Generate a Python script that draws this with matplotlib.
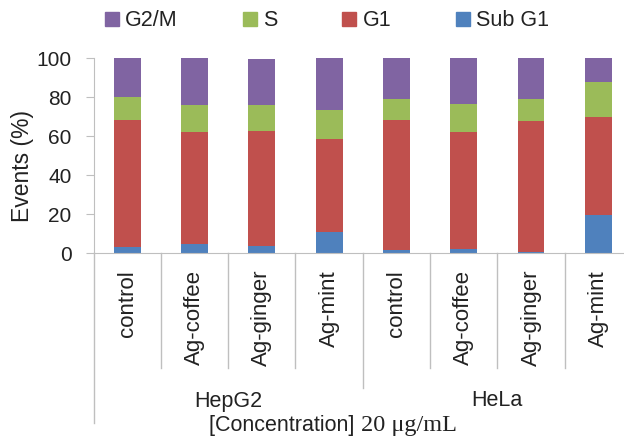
import matplotlib
matplotlib.use("Agg")
import matplotlib.pyplot as plt
from matplotlib.patches import Patch
from matplotlib.offsetbox import TextArea, HPacker, AnchoredOffsetbox

categories = ["control", "Ag-coffee", "Ag-ginger", "Ag-mint",
              "control", "Ag-coffee", "Ag-ginger", "Ag-mint"]
groups = ["HepG2", "HeLa"]
sub_g1 = [3.2, 5.0, 4.0, 11.0, 1.9, 2.2, 0.7, 19.5]
g1 = [65.0, 57.0, 58.5, 47.8, 66.5, 59.8, 67.0, 50.2]
s_phase = [11.8, 13.8, 13.3, 14.9, 10.9, 14.4, 11.3, 18.3]
g2m = [20.0, 24.2, 23.8, 26.3, 20.7, 23.6, 21.0, 12.0]

colors = {"G2/M": "#8064A2", "S": "#9BBB59", "G1": "#C0504D", "Sub G1": "#4F81BD"}

plt.rcParams["font.family"] = ["Liberation Sans", "DejaVu Sans"]
plt.rcParams["text.color"] = "#222222"
plt.rcParams["xtick.labelcolor"] = "#222222"
plt.rcParams["ytick.labelcolor"] = "#222222"

fig = plt.figure(figsize=(6.24, 4.43), dpi=100)
W, H = 624, 443
x_left, x_right = 93.5, 632.0
y_bot, y_top = 253.3, 58.3
ax = fig.add_axes([x_left / W, 1 - y_bot / H, (x_right - x_left) / W, (y_bot - y_top) / H])

x = list(range(len(categories)))
bottom = [0] * len(x)
for name, vals in [("Sub G1", sub_g1), ("G1", g1), ("S", s_phase), ("G2/M", g2m)]:
    ax.bar(x, vals, width=0.4, bottom=bottom, color=colors[name], linewidth=0)
    bottom = [b + v for b, v in zip(bottom, vals)]

ax.set_xlim(-0.5, len(x) - 0.5)
ax.set_ylim(0, 100)
ax.set_yticks(range(0, 101, 20))
ax.tick_params(axis="y", labelsize=15, length=5.8, color="#BFBFBF", pad=10)
fig.text(23 / W, 1 - 166 / H, "Events (%)", rotation=90, fontsize=16.5,
         ha="center", va="center")

ax.set_xticks(x)
ax.set_xticklabels(categories, fontsize=16)
ax.tick_params(axis="x", length=0, pad=12)
for lbl in ax.get_xticklabels():
    lbl.set_rotation(90)
    lbl.set_rotation_mode("default")
    lbl.set_va("top")
    lbl.set_ha("center")

for sp in ["top", "right"]:
    ax.spines[sp].set_visible(False)
ax.spines["left"].set_color("#BFBFBF")
ax.spines["bottom"].set_color("#BFBFBF")

# category separators below the axis
tr = ax.get_xaxis_transform()
for i in range(1, len(x)):
    bx = i - 0.5
    low = -0.69 if i == 4 else -0.588
    ax.plot([bx, bx], [0, low], transform=tr, color="#BFBFBF", lw=1, clip_on=False)
ax.plot([-0.5, -0.5], [0, -0.87], transform=tr, color="#BFBFBF", lw=1, clip_on=False)

for gi, g in enumerate(groups):
    fig.text((x_left + (gi * 4 + 2) * 67.3) / W, 1 - 401 / H, g,
             ha="center", va="center", fontsize=15.5)

# axis title with mixed fonts
t1 = TextArea("[Concentration] ", textprops=dict(fontsize=15.5, family="Liberation Sans", color="#222222"))
t2 = TextArea("20 \u03bcg/mL", textprops=dict(fontsize=17.5, family="Liberation Serif", color="#222222"))
box = HPacker(children=[t1, t2], align="baseline", pad=0, sep=0)
ab = AnchoredOffsetbox(loc="center", child=box, frameon=False, pad=0, borderpad=0,
                       bbox_to_anchor=(333 / W, 1 - 425 / H), bbox_transform=fig.transFigure)
fig.add_artist(ab)

handles = [Patch(color=colors[n], label=n) for n in ["G2/M", "S", "G1", "Sub G1"]]
fig.legend(handles=handles, ncol=4, loc="center", bbox_to_anchor=(327 / W, 1 - 21 / H),
           frameon=False, fontsize=15.5, handlelength=0.65, handleheight=0.65,
           handletextpad=0.3, columnspacing=3.0)

fig.savefig("out.png", dpi=100)
